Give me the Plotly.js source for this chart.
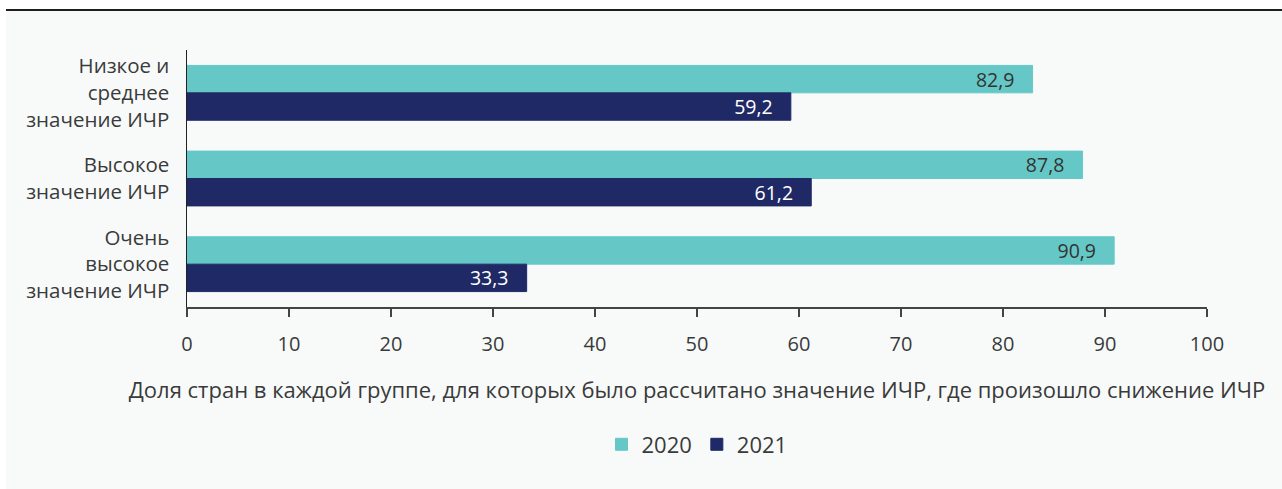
<!DOCTYPE html>
<html><head><meta charset="utf-8">
<script src="https://cdn.plot.ly/plotly-3.0.1.min.js"></script>
<style>
html,body{margin:0;padding:0;background:#fff;width:1282px;height:489px;overflow:hidden;}
#frame{position:absolute;left:6px;top:9px;width:1276px;height:480px;border-top:2px solid #1e1e1e;background:#f8fafa;}
#chart{width:1276px;height:478px;}
</style></head>
<body>
<div id="frame"><div id="chart"></div></div>
<script>
var categories = ["Низкое и<br>среднее<br>значение ИЧР", "Высокое<br>значение ИЧР", "Очень<br>высокое<br>значение ИЧР"];
var values2020 = [82.9, 87.8, 90.9];
var values2021 = [59.2, 61.2, 33.3];
var seriesNames = ["2020", "2021"];
var xTicks = [0, 10, 20, 30, 40, 50, 60, 70, 80, 90, 100];
var xTitle = "Доля стран в каждой группе, для которых было рассчитано значение ИЧР, где произошло снижение ИЧР";

var FONT = "Open Sans, Lato, sans-serif";
var pad = "\u00a0\u00a0\u00a0";
var traces = [
  {type:"bar", orientation:"h", name:seriesNames[0], y:categories, x:values2020,
   marker:{color:"#66c8c6", line:{color:"#66c8c6", width:1}}, texttemplate:"%{x:.1f}"+pad, textposition:"inside",
   insidetextanchor:"end", constraintext:"none", insidetextfont:{color:"#333333", size:19.5, family:FONT}, hoverinfo:"x"},
  {type:"bar", orientation:"h", name:seriesNames[1], y:categories, x:values2021,
   marker:{color:"#1f2966", line:{color:"#1f2966", width:1}}, texttemplate:"%{x:.1f}"+pad, textposition:"inside",
   insidetextanchor:"end", constraintext:"none", insidetextfont:{color:"#ffffff", size:19.5, family:FONT}, hoverinfo:"x"}
];
var layout = {
  width:1276, height:478,
  margin:{l:181, r:75, t:39, b:182},
  paper_bgcolor:"rgba(0,0,0,0)", plot_bgcolor:"rgba(0,0,0,0)",
  separators:", ",
  barmode:"group", bargap:0.36, bargroupgap:0,
  font:{family:FONT, color:"#3a3a3a"},
  xaxis:{range:[0,100], tickvals:xTicks, ticktext:xTicks.map(String), showgrid:false, zeroline:false,
    showline:true, linecolor:"#444", linewidth:1.5, ticks:"outside", ticklen:8, tickwidth:1.5, tickcolor:"#444",
    tickfont:{size:20, color:"#3a3a3a"}, ticklabelstandoff:10,
    title:{text:xTitle, font:{size:22, color:"#3a3a3a"}, standoff:27}},
  yaxis:{autorange:"reversed", showgrid:false, zeroline:false, showline:true, linecolor:"#222", linewidth:1.5,
    ticks:"", tickfont:{size:20.5, color:"#3a3a3a"}, ticklabelstandoff:12},
  showlegend:true,
  legend:{orientation:"h", x:0.5, xanchor:"center", y:-0.535, yanchor:"middle",
    font:{size:22, color:"#3a3a3a"}, traceorder:"normal", itemwidth:30},
  hovermode:false
};
Plotly.newPlot("chart", traces, layout, {displayModeBar:false, staticPlot:true});
</script>
</body></html>
